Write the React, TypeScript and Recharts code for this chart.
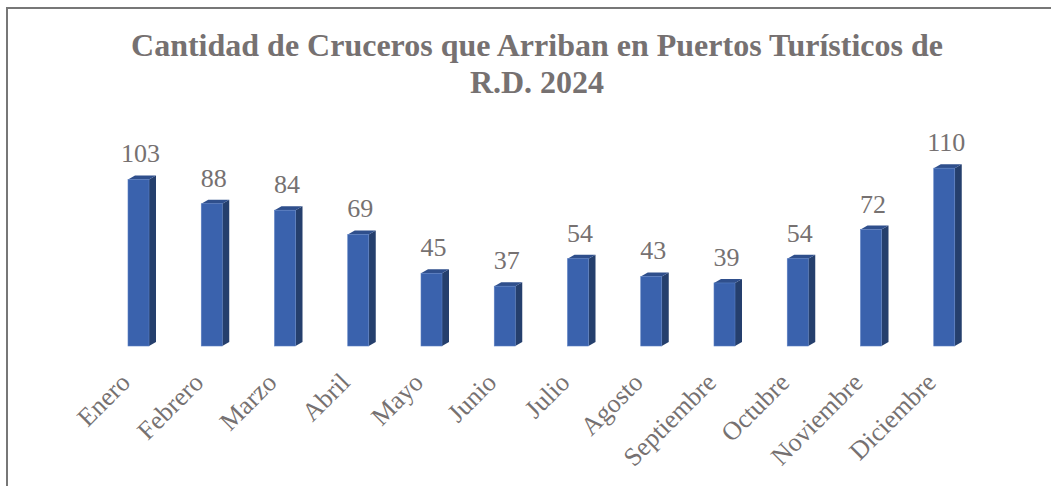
import React from "react";
import { BarChart, Bar, XAxis, YAxis, LabelList } from "recharts";

const months = ["Enero", "Febrero", "Marzo", "Abril", "Mayo", "Junio", "Julio", "Agosto", "Septiembre", "Octubre", "Noviembre", "Diciembre"];
const cruceros = [103, 88, 84, 69, 45, 37, 54, 43, 39, 54, 72, 110];
const titleLines = ["Cantidad de Cruceros que Arriban en Puertos Turísticos de", "R.D. 2024"];

const data = months.map((m, i) => ({ mes: m, valor: cruceros[i] }));

const FONT = "Liberation Serif";
const GRAY = "#767171";
const DX = 7;
const DY = -4;

const Bar3D = (props: any) => {
  const { x, y, width, height } = props;
  if (height <= 0) return null;
  const b = y + height;
  const side = `${x + width},${y} ${x + width + DX},${y + DY} ${x + width + DX},${b + DY} ${x + width},${b}`;
  const top = `${x},${y} ${x + DX},${y + DY} ${x + width + DX},${y + DY} ${x + width},${y}`;
  return (
    <g>
      <polygon points={side} fill="#253f6d" />
      <polygon points={top} fill="#2f4f8c" />
      <rect x={x} y={y} width={width} height={height} fill="#3a62ad" stroke="#5a7fc2" strokeWidth={0.6} />
    </g>
  );
};

const ValueLabel = (props: any) => {
  const { x, y, width, value } = props;
  return (
    <text x={x + width / 2 + 2} y={y - 17} textAnchor="middle" fill={GRAY} fontFamily={FONT} fontSize={26}>
      {value}
    </text>
  );
};

const MonthTick = (props: any) => {
  const { x, y, payload } = props;
  const ax = x - 7;
  const ay = y + 30;
  return (
    <text x={ax} y={ay} textAnchor="end" fill={GRAY} fontFamily={FONT} fontSize={26} transform={`rotate(-45 ${ax} ${ay})`}>
      {payload.value}
    </text>
  );
};

export default function App() {
  return (
    <div style={{ position: "fixed", left: 0, top: 0, width: 1051, height: 486, overflow: "hidden", background: "#fff" }}>
      <div style={{ position: "absolute", left: 6, top: 7, width: 1100, height: 600, border: "2px solid #777", boxSizing: "border-box" }} />
      <div
        style={{
          position: "absolute",
          left: 37,
          top: 27,
          width: 1000,
          textAlign: "center",
          fontFamily: FONT,
          fontWeight: "bold",
          fontSize: 32,
          lineHeight: "37px",
          color: GRAY,
        }}
      >
        {titleLines.map((l) => (
          <div key={l}>{l}</div>
        ))}
      </div>
      <div style={{ position: "absolute", left: 0, top: 0 }}>
        <BarChart width={1051} height={486} data={data} margin={{ top: 152, right: 70, left: 102, bottom: 0 }}>
          <YAxis hide domain={[0, 120]} />
          <XAxis dataKey="mes" height={140} axisLine={false} tickLine={false} tick={<MonthTick />} interval={0} />
          <Bar dataKey="valor" barSize={21} shape={<Bar3D />} isAnimationActive={false}>
            <LabelList dataKey="valor" content={<ValueLabel />} />
          </Bar>
        </BarChart>
      </div>
    </div>
  );
}
